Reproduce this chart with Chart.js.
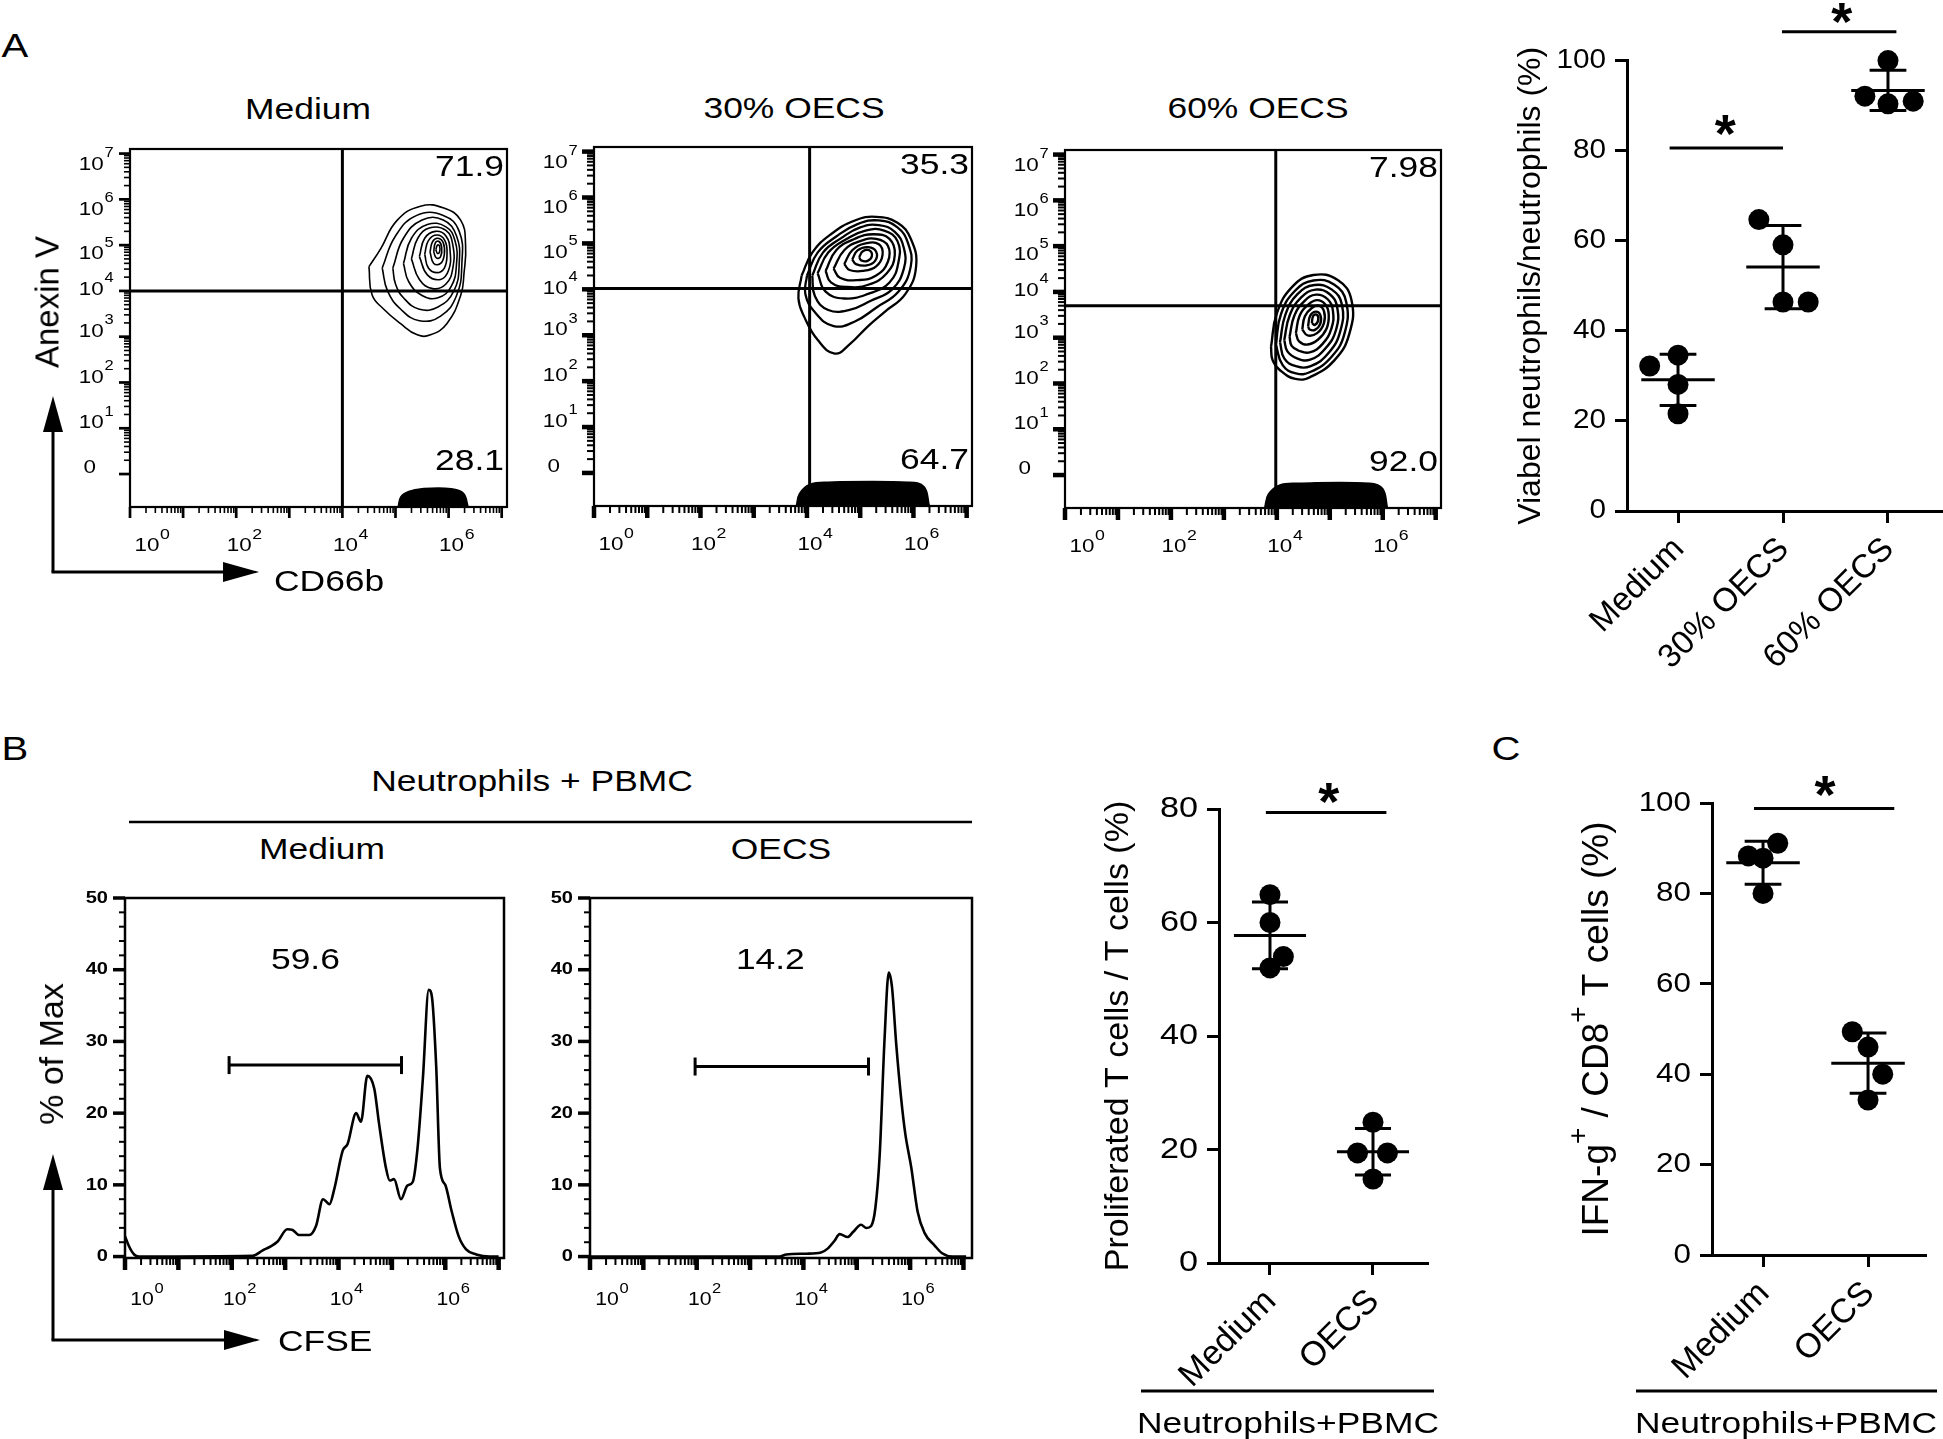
<!DOCTYPE html>
<html>
<head>
<meta charset="utf-8">
<title>Neutrophil viability and T cell proliferation</title>
<script src="https://cdn.jsdelivr.net/npm/chart.js@4.4.1/dist/chart.umd.min.js"></script>
<style>
  html, body { margin:0; padding:0; background:#fff; }
  #fig { position:relative; width:1943px; height:1439px; overflow:hidden; background:#fff;
         font-family:'Liberation Sans', Arial, Helvetica, sans-serif; color:#000; }
  #charts { position:absolute; left:0; top:0; width:1943px; height:1439px; }
  #charts canvas { position:absolute; }
  #fig svg { position:absolute; left:0; top:0; }
  .tx { position:absolute; white-space:nowrap; line-height:1; transform:translate(-50%,-50%) scaleX(1.18); }
  .tl { position:absolute; white-space:nowrap; line-height:1; transform-origin:0 50%; transform:translate(0,-50%) scaleX(1.18); }
  .rot { position:absolute; white-space:nowrap; line-height:1; transform:translate(-50%,-50%) rotate(-90deg); }
</style>
</head>
<body>
<div id="fig">
  <svg width="1943" height="1439" xmlns="http://www.w3.org/2000/svg">
    <g stroke="#000" stroke-width="3" fill="none">
      <line x1="53" y1="572" x2="53" y2="428"/>
      <line x1="51.5" y1="572" x2="226" y2="572"/>
      <line x1="53" y1="1340" x2="53" y2="1186"/>
      <line x1="51.5" y1="1340" x2="226" y2="1340"/>
      <line x1="129" y1="822" x2="972" y2="822" stroke-width="2.5"/>
      <line x1="1141" y1="1391" x2="1434" y2="1391"/>
      <line x1="1636" y1="1391" x2="1937" y2="1391"/>
    </g>
    <g fill="#000">
      <polygon points="53,396 43,432 63,432"/>
      <polygon points="259,572 223,562 223,582"/>
      <polygon points="53,1154 43,1190 63,1190"/>
      <polygon points="260,1340 224,1330 224,1350"/>
    </g>
  </svg>
  <div id="charts"></div>

  <div class="tx" style="left:15px;top:45px;font-size:34px">A</div>
  <div class="tx" style="left:308px;top:109px;font-size:30px">Medium</div>
  <div class="tx" style="left:794px;top:108px;font-size:30px">30% OECS</div>
  <div class="tx" style="left:1258px;top:108px;font-size:30px">60% OECS</div>
  <div class="rot" style="left:47px;top:302px;font-size:33px">Anexin V</div>
  <div class="tl" style="left:274px;top:581px;font-size:30px">CD66b</div>

  <div class="tx" style="left:15px;top:748px;font-size:34px">B</div>
  <div class="tx" style="left:532px;top:781px;font-size:30px">Neutrophils + PBMC</div>
  <div class="tx" style="left:322px;top:849px;font-size:30px">Medium</div>
  <div class="tx" style="left:781px;top:849px;font-size:30px">OECS</div>
  <div class="rot" style="left:51px;top:1054px;font-size:34px">% of Max</div>
  <div class="tl" style="left:278px;top:1341px;font-size:30px">CFSE</div>
  <div class="tx" style="left:1288px;top:1423px;font-size:30px">Neutrophils+PBMC</div>

  <div class="tx" style="left:1506px;top:748px;font-size:34px">C</div>
  <div class="tx" style="left:1786px;top:1423px;font-size:30px">Neutrophils+PBMC</div>
</div>

<script>
// ======================= DATA =======================
// Panel A: flow cytometry contour plots. Axis units are decades (0 = "0", 1 = 10^1 ... 7 = 10^7)
const flowTitles = ['Medium', '30% OECS', '60% OECS'];
const flowUpperPct = ['71.9', '35.3', '7.98'];
const flowLowerPct = ['28.1', '64.7', '92.0'];
const flowGateCD66b = [4.0, 4.05, 3.98];
const flowGateAnnexin = [4.0, 4.02, 3.70];
const flowYTicks = [0, 1, 2, 3, 4, 5, 6, 7];
const flowYTickExp = [null, '1', '2', '3', '4', '5', '6', '7'];
const flowXTicks = [0, 2, 4, 6];
const flowXTickExp = ['0', '2', '4', '6'];

const contourMedium = [
  [[4.50,4.53],[4.72,4.92],[5.03,5.54],[5.47,5.85],[5.91,5.81],[6.23,5.54],[6.32,5.0],[6.29,4.38],[6.23,3.91],[5.97,3.29],[5.66,3.04],[5.41,3.04],[5.09,3.29],[4.78,3.6],[4.56,3.91]],
  [[4.75,4.5],[5.0,5.2],[5.4,5.65],[5.9,5.65],[6.2,5.3],[6.25,4.6],[6.15,3.9],[5.85,3.45],[5.45,3.35],[5.1,3.6],[4.85,4.0]],
  [[4.95,4.5],[5.15,5.15],[5.5,5.55],[5.9,5.55],[6.15,5.2],[6.2,4.6],[6.1,4.0],[5.8,3.65],[5.45,3.6],[5.15,3.85],[5.0,4.15]],
  [[5.15,4.6],[5.3,5.15],[5.6,5.45],[5.95,5.4],[6.12,5.1],[6.15,4.6],[6.05,4.1],[5.8,3.85],[5.5,3.9],[5.25,4.2]],
  [[5.3,4.7],[5.42,5.15],[5.65,5.38],[5.95,5.32],[6.08,5.0],[6.08,4.5],[5.95,4.15],[5.7,4.05],[5.45,4.25]],
  [[5.45,4.75],[5.55,5.15],[5.75,5.3],[5.95,5.2],[6.03,4.85],[6.0,4.45],[5.85,4.25],[5.6,4.35]],
  [[5.55,4.8],[5.62,5.1],[5.78,5.22],[5.93,5.1],[5.97,4.8],[5.92,4.5],[5.78,4.4],[5.62,4.5]],
  [[5.65,4.85],[5.7,5.08],[5.8,5.15],[5.9,5.05],[5.92,4.8],[5.85,4.6],[5.72,4.6]],
  [[5.72,4.85],[5.75,5.05],[5.82,5.08],[5.87,4.95],[5.85,4.75],[5.77,4.72]],
  [[5.76,4.9],[5.79,5.0],[5.83,4.98],[5.83,4.85],[5.79,4.82]]
];
const blobMedium = [[5.05,-0.72],[5.1,-0.5],[5.25,-0.38],[5.5,-0.32],[6.05,-0.32],[6.28,-0.42],[6.37,-0.72]];

const contour30 = [
  [[3.9,4.3],[4.1,4.8],[4.45,5.2],[4.9,5.5],[5.3,5.58],[5.7,5.45],[5.95,5.1],[6.05,4.5],[5.85,3.9],[5.45,3.5],[5.15,3.2],[4.8,2.8],[4.52,2.6],[4.2,2.9],[3.95,3.4],[3.84,3.8]],
  [[4.0,4.3],[4.2,4.8],[4.55,5.15],[4.95,5.42],[5.35,5.5],[5.7,5.35],[5.9,5.0],[5.95,4.5],[5.72,3.95],[5.3,3.6],[4.9,3.3],[4.5,3.2],[4.15,3.5],[3.97,3.9]],
  [[4.1,4.3],[4.3,4.8],[4.65,5.12],[5.0,5.35],[5.35,5.4],[5.65,5.25],[5.82,4.9],[5.82,4.45],[5.6,4.0],[5.2,3.75],[4.8,3.55],[4.4,3.55],[4.15,3.85]],
  [[4.2,4.35],[4.4,4.8],[4.75,5.1],[5.1,5.28],[5.45,5.28],[5.7,5.05],[5.72,4.6],[5.55,4.15],[5.15,3.9],[4.7,3.8],[4.35,3.95]],
  [[4.35,4.4],[4.55,4.85],[4.9,5.1],[5.25,5.2],[5.55,5.1],[5.65,4.75],[5.5,4.35],[5.15,4.1],[4.75,4.05],[4.45,4.15]],
  [[4.5,4.45],[4.7,4.85],[5.0,5.05],[5.3,5.1],[5.52,4.95],[5.52,4.6],[5.3,4.3],[4.95,4.2],[4.62,4.25]],
  [[4.7,4.55],[4.85,4.85],[5.1,5.0],[5.35,4.98],[5.42,4.75],[5.3,4.5],[5.05,4.4],[4.8,4.42]],
  [[4.85,4.65],[4.95,4.85],[5.15,4.92],[5.3,4.82],[5.28,4.62],[5.12,4.52],[4.92,4.55]],
  [[4.98,4.7],[5.05,4.83],[5.17,4.85],[5.22,4.73],[5.14,4.62],[5.02,4.63]]
];
const blob30 = [[3.8,-0.72],[3.86,-0.45],[4.05,-0.25],[4.4,-0.2],[5.9,-0.2],[6.2,-0.3],[6.3,-0.72]];

const contour60 = [
  [[3.89,2.8],[4.0,3.53],[4.29,4.11],[4.69,4.37],[5.15,4.26],[5.41,3.82],[5.37,3.09],[5.09,2.51],[4.63,2.14],[4.35,2.1],[4.06,2.29],[3.92,2.51]],
  [[3.98,2.85],[4.08,3.52],[4.34,4.02],[4.69,4.25],[5.08,4.16],[5.31,3.78],[5.28,3.1],[5.03,2.58],[4.63,2.25],[4.36,2.22],[4.11,2.4]],
  [[4.06,2.9],[4.16,3.5],[4.39,3.95],[4.71,4.15],[5.04,4.05],[5.23,3.72],[5.2,3.15],[4.98,2.67],[4.64,2.38],[4.36,2.38],[4.14,2.55]],
  [[4.14,2.95],[4.24,3.48],[4.46,3.88],[4.73,4.05],[5.0,3.95],[5.14,3.66],[5.12,3.18],[4.92,2.77],[4.63,2.52],[4.38,2.55],[4.2,2.7]],
  [[4.24,3.02],[4.33,3.48],[4.52,3.8],[4.74,3.94],[4.96,3.84],[5.06,3.58],[5.03,3.2],[4.86,2.86],[4.62,2.68],[4.41,2.72],[4.28,2.82]],
  [[4.36,3.1],[4.43,3.48],[4.59,3.72],[4.76,3.82],[4.92,3.72],[4.98,3.5],[4.94,3.2],[4.78,2.96],[4.58,2.85],[4.42,2.92]],
  [[4.48,3.18],[4.53,3.47],[4.66,3.65],[4.79,3.7],[4.89,3.58],[4.89,3.32],[4.76,3.1],[4.58,3.05]],
  [[4.59,3.25],[4.63,3.48],[4.73,3.57],[4.82,3.5],[4.82,3.3],[4.72,3.17],[4.62,3.18]],
  [[4.66,3.32],[4.69,3.48],[4.76,3.5],[4.78,3.38],[4.72,3.28]]
];
const blob60 = [[3.77,-0.72],[3.84,-0.42],[4.05,-0.22],[4.4,-0.18],[5.75,-0.18],[6.0,-0.3],[6.09,-0.72]];

// Panel B: CFSE histograms (x in decades, y = % of Max)
const histYTicks = [0, 10, 20, 30, 40, 50];
const cfseMedium = [
  [0,2.85],[0.075,1.43],[0.17,0.29],[0.26,0],[2.39,0.1],[2.58,0.86],[2.73,1.43],[2.86,2.1],[3.04,3.8],[3.14,3.7],
  [3.26,3.0],[3.45,3.0],[3.58,4.3],[3.71,8.0],[3.83,7.3],[3.92,9.4],[4.08,14.8],[4.17,15.7],[4.33,20.0],[4.42,18.8],
  [4.54,25.2],[4.67,23.4],[4.76,18.5],[4.89,12.3],[4.96,10.6],[5.04,10.8],[5.17,8.0],[5.29,9.9],[5.39,10.4],[5.48,15.1],
  [5.58,24.8],[5.69,37.2],[5.75,36.2],[5.83,26.5],[5.9,12.3],[6.0,10.0],[6.11,6.6],[6.25,2.85],[6.39,1.0],[6.58,0.3],
  [6.83,0],[7.0,0]
];
const cfseOECS = [
  [0,0],[3.55,0],[3.68,0.28],[4.05,0.4],[4.33,0.57],[4.46,1.14],[4.58,2.17],[4.68,3.13],[4.83,2.73],[4.93,3.42],
  [5.08,4.44],[5.18,3.99],[5.27,4.27],[5.35,6.84],[5.43,14.2],[5.52,30.2],[5.6,39.6],[5.66,37.6],[5.74,29.6],[5.83,22.2],
  [5.91,17.1],[6.02,12.5],[6.14,6.3],[6.27,3.3],[6.46,1.54],[6.6,0.46],[6.8,0],[7.05,0]
];
const cfseGateMedium = [1.95, 5.18, 26.7];   // from, to, height
const cfseGateOECS = [1.97, 5.22, 26.5];
const cfsePct = ['59.6', '14.2'];

// Panel A right: viable neutrophils / neutrophils (%)
const viabCategories = ['Medium', '30% OECS', '60% OECS'];
const viabValues = [[32.2, 34.6, 28.1, 21.6], [64.7, 59.1, 46.4, 46.4], [92.1, 100.0, 90.4, 91.0]];
const viabJitter = [[-0.27, 0, 0, 0], [-0.23, 0, 0, 0.24], [-0.22, 0, 0, 0.24]];
const viabSig = [{from: -0.08, to: 1.0, y: 80.6, sx: 0.45, sy: 86.6}, {from: 0.99, to: 2.08, y: 106.4, sx: 1.56, sy: 111.5}];

// Panel B right: proliferated T cells / T cells (%)
const prolifCategories = ['Medium', 'OECS'];
const prolifValues = [[64.9, 60.0, 54.0, 52.0], [24.8, 19.4, 19.4, 14.8]];
const prolifJitter = [[0, 0, 0.13, 0], [0, -0.15, 0.14, 0]];
const prolifSig = [{from: -0.04, to: 1.13, y: 79.4, sx: 0.57, sy: 83.5}];

// Panel C: IFN-g+ / CD8+ T cells (%)
const ifnCategories = ['Medium', 'OECS'];
const ifnValues = [[88.3, 87.8, 91.1, 80.0], [49.4, 46.0, 40.0, 34.3]];
const ifnJitter = [[-0.14, 0, 0.14, 0], [-0.15, 0, 0.14, 0]];
const ifnSig = [{from: -0.086, to: 1.25, y: 98.8, sx: 0.59, sy: 104.7}];

// ======================= RENDERING =======================
const FONT = "'Liberation Sans', Arial, Helvetica, sans-serif";
const SX = 1.18;   // horizontal stretch of the original lettering
Chart.defaults.font.family = FONT;
Chart.defaults.color = '#000';

function mkCanvas(box) {
  const c = document.createElement('canvas');
  c.width = box.w; c.height = box.h;
  c.style.left = box.x + 'px'; c.style.top = box.y + 'px';
  c.style.width = box.w + 'px'; c.style.height = box.h + 'px';
  document.getElementById('charts').appendChild(c);
  return c;
}
function padFor(area, box, yW, xH) {
  return { left: area.l - box.x - yW, top: area.t - box.y,
           right: box.x + box.w - area.r, bottom: box.y + box.h - area.b - xH };
}
function pts(arr) { return arr.map(p => ({x: p[0], y: p[1]})); }
function seg(ctx, x1, y1, x2, y2) { ctx.beginPath(); ctx.moveTo(x1, y1); ctx.lineTo(x2, y2); ctx.stroke(); }
function decadeMinors(maxV) {
  const out = [];
  for (let d = 0; d < 8; d++) for (let k = 2; k <= 9; k++) { const v = d + Math.log10(k); if (v <= maxV) out.push(v); }
  return out;
}
function sText(ctx, text, x, y, size, align, sx, weight) {
  ctx.save();
  ctx.translate(x, y); ctx.scale(sx, 1);
  ctx.font = (weight ? weight + ' ' : '') + size + 'px ' + FONT;
  ctx.textAlign = align; ctx.textBaseline = 'middle'; ctx.fillStyle = '#000';
  ctx.fillText(text, 0, 0);
  ctx.restore();
}
function drawPow(ctx, x, y, exp, baseSize, expSize, align, sx) {
  ctx.save();
  ctx.translate(x, y); ctx.scale(sx, 1);
  ctx.textBaseline = 'middle'; ctx.textAlign = 'left'; ctx.fillStyle = '#000';
  ctx.font = baseSize + 'px ' + FONT;
  const wb = ctx.measureText('10').width;
  ctx.font = expSize + 'px ' + FONT;
  const we = ctx.measureText(exp).width;
  const x0 = align === 'right' ? -wb - we : -wb / 2;
  ctx.font = baseSize + 'px ' + FONT; ctx.fillText('10', x0, 0);
  ctx.font = expSize + 'px ' + FONT; ctx.fillText(exp, x0 + wb + 0.5, -baseSize * 0.6);
  ctx.restore();
}
function drawDecadeXAxis(ctx, a, xs, st) {
  ctx.lineWidth = st.majW;
  for (let d = 0; d <= 7; d++) { if (d > xs.max) break; const p = xs.getPixelForValue(d); seg(ctx, p, a.bottom, p, a.bottom + st.majLen); }
  ctx.lineWidth = st.minW;
  decadeMinors(xs.max).forEach(v => { const p = xs.getPixelForValue(v); seg(ctx, p, a.bottom, p, a.bottom + st.minLen); });
  flowXTicks.forEach((v, i) => {
    const p = xs.getPixelForValue(v) + (i === 0 ? 17 : 3);
    drawPow(ctx, p, a.bottom + st.labDy, flowXTickExp[i], st.labSize, st.labSize - 4, 'center', SX);
  });
}

// ---------- flow contour plots ----------
const flowYNudge = [-6, -5, -5, -5, -1, 9, 10, 11];
function flowChart(area, rings, blob, idx, lineW, tickStyle) {
  const box = {x: area.l - 80, y: area.t - 12, w: area.r - area.l + 92, h: area.b - area.t + 12 + 70};
  const xMax = 7.1, yMin = -0.72, yMax = 7.1;
  const datasets = [];
  const base = {borderColor: '#000', pointRadius: 0, fill: false};
  datasets.push(Object.assign({}, base, {data: [{x: flowGateCD66b[idx], y: yMin}, {x: flowGateCD66b[idx], y: yMax}], borderWidth: 3, tension: 0}));
  datasets.push(Object.assign({}, base, {data: [{x: 0, y: flowGateAnnexin[idx]}, {x: xMax, y: flowGateAnnexin[idx]}], borderWidth: 3, tension: 0}));
  rings.forEach(r => datasets.push(Object.assign({}, base, {data: pts(r.concat([r[0]])), borderWidth: lineW, tension: 0.45})));
  datasets.push(Object.assign({}, base, {data: pts(blob), fill: 'start', backgroundColor: '#000', borderWidth: 1.5, tension: 0.4}));
  const plugin = {
    id: 'flowDecor',
    afterDraw(chart) {
      const ctx = chart.ctx, a = chart.chartArea, xs = chart.scales.x, ys = chart.scales.y;
      ctx.save();
      ctx.strokeStyle = '#000'; ctx.fillStyle = '#000'; ctx.lineCap = 'butt';
      ctx.lineWidth = 2.2;
      ctx.strokeRect(a.left, a.top, a.right - a.left, a.bottom - a.top);
      drawDecadeXAxis(ctx, a, xs, tickStyle);
      ctx.lineWidth = tickStyle.majW;
      flowYTicks.forEach(v => { const p = ys.getPixelForValue(v); seg(ctx, a.left, p, a.left - tickStyle.majLen, p); });
      ctx.lineWidth = tickStyle.minW;
      decadeMinors(7).forEach(v => { const p = ys.getPixelForValue(v); seg(ctx, a.left, p, a.left - tickStyle.minLen, p); });
      flowYTicks.forEach((v, i) => {
        const p = ys.getPixelForValue(v) + flowYNudge[i];
        if (flowYTickExp[i] === null) {
          sText(ctx, '0', a.left - 34, p, tickStyle.labSize, 'right', SX);
        } else {
          drawPow(ctx, a.left - 17, p, flowYTickExp[i], tickStyle.labSize, tickStyle.labSize - 5, 'right', SX);
        }
      });
      sText(ctx, flowUpperPct[idx], a.right - 3, a.top + 19, 30, 'right', SX);
      sText(ctx, flowLowerPct[idx], a.right - 3, a.bottom - 45, 30, 'right', SX);
      ctx.restore();
    }
  };
  new Chart(mkCanvas(box), {
    type: 'line',
    data: {datasets},
    options: {
      responsive: false, animation: false, devicePixelRatio: 1, events: [],
      layout: {autoPadding: false, padding: padFor(area, box, 0, 0)},
      plugins: {legend: {display: false}, tooltip: {enabled: false}},
      scales: {
        x: {type: 'linear', display: false, min: 0, max: xMax},
        y: {type: 'linear', display: false, min: yMin, max: yMax}
      }
    },
    plugins: [plugin]
  });
}

flowChart({l: 130, r: 507, t: 149, b: 507}, contourMedium, blobMedium, 0, 1.6, {majW: 2.7, majLen: 11, minW: 1.6, minLen: 6, labDy: 39, labSize: 19});
flowChart({l: 594, r: 972, t: 147, b: 506}, contour30, blob30, 1, 2.3, {majW: 4.5, majLen: 12, minW: 2, minLen: 7, labDy: 39, labSize: 19});
flowChart({l: 1065, r: 1441, t: 150, b: 508}, contour60, blob60, 2, 2.4, {majW: 4.5, majLen: 12, minW: 2, minLen: 7, labDy: 39, labSize: 19});

// ---------- CFSE histograms ----------
function histChart(area, xMax, series, gate, pct) {
  const box = {x: area.l - 80, y: area.t - 12, w: area.r - area.l + 92, h: area.b - area.t + 12 + 70};
  const yMin = -0.2, yMax = 50;
  const datasets = [
    {data: [{x: gate[0], y: gate[2]}, {x: gate[1], y: gate[2]}], borderColor: '#000', borderWidth: 3, showLine: true,
     pointStyle: 'line', pointRadius: 9, pointRotation: 90, pointBorderWidth: 3, pointBorderColor: '#000', fill: false},
    {data: pts(series), borderColor: '#000', borderWidth: 2.6, pointRadius: 0, fill: false, cubicInterpolationMode: 'monotone'}
  ];
  const st = {majW: 4.5, majLen: 12, minW: 2, minLen: 7, labDy: 42, labSize: 18};
  const plugin = {
    id: 'histDecor',
    afterDraw(chart) {
      const ctx = chart.ctx, a = chart.chartArea, xs = chart.scales.x, ys = chart.scales.y;
      ctx.save();
      ctx.strokeStyle = '#000'; ctx.fillStyle = '#000';
      ctx.lineWidth = 2.5;
      ctx.strokeRect(a.left, a.top, a.right - a.left, a.bottom - a.top);
      drawDecadeXAxis(ctx, a, xs, st);
      for (let v = 0; v <= 50; v += 2) {
        const p = ys.getPixelForValue(v);
        const major = histYTicks.indexOf(v) >= 0;
        ctx.lineWidth = major ? 3.5 : 2;
        seg(ctx, a.left, p, a.left - (major ? 12 : 6), p);
      }
      histYTicks.forEach(v => sText(ctx, String(v), a.left - 17, ys.getPixelForValue(v), 17, 'right', SX, 'bold'));
      sText(ctx, pct, xs.getPixelForValue(3.38), ys.getPixelForValue(41.3), 30, 'center', SX);
      ctx.restore();
    }
  };
  new Chart(mkCanvas(box), {
    type: 'line',
    data: {datasets},
    options: {
      responsive: false, animation: false, devicePixelRatio: 1, events: [],
      layout: {autoPadding: false, padding: padFor(area, box, 0, 0)},
      plugins: {legend: {display: false}, tooltip: {enabled: false}},
      scales: {
        x: {type: 'linear', display: false, min: 0, max: xMax},
        y: {type: 'linear', display: false, min: yMin, max: yMax}
      }
    },
    plugins: [plugin]
  });
}
histChart({l: 125, r: 504, t: 898, b: 1258}, 7.1, cfseMedium, cfseGateMedium, cfsePct[0]);
histChart({l: 590, r: 972, t: 898, b: 1258}, 7.16, cfseOECS, cfseGateOECS, cfsePct[1]);

// ---------- dot plots (mean ± SD) ----------
function mean(a) { return a.reduce((s, v) => s + v, 0) / a.length; }
function sd(a) { const m = mean(a); return Math.sqrt(a.reduce((s, v) => s + (v - m) * (v - m), 0) / (a.length - 1)); }
function drawRich(ctx, parts, cx, cy, size) {
  ctx.save(); ctx.translate(cx, cy); ctx.rotate(-Math.PI / 2);
  const sup = Math.round(size * 0.75);
  const ws = parts.map(p => { ctx.font = (p.sup ? sup : size) + 'px ' + FONT; return ctx.measureText(p.t).width; });
  let x = -ws.reduce((s, w) => s + w, 0) / 2;
  ctx.textAlign = 'left'; ctx.textBaseline = 'middle'; ctx.fillStyle = '#000';
  parts.forEach((p, i) => { ctx.font = (p.sup ? sup : size) + 'px ' + FONT; ctx.fillText(p.t, x, p.sup ? -size * 0.5 : 0); x += ws[i]; });
  ctx.restore();
}
function dotChart(box, area, cats, values, jitter, xr, yr, ystep, sig, titleParts, titleX, fs) {
  const YW = 80, XH = 100;
  const data = [];
  values.forEach((arr, i) => arr.forEach((v, j) => data.push({x: i + jitter[i][j], y: v})));
  const axisStyle = {
    grid: {display: true, drawOnChartArea: false, drawTicks: true, tickLength: 12, tickWidth: 3, tickColor: '#000', color: '#000'},
    border: {display: true, width: 3, color: '#000'}
  };
  const plugin = {
    id: 'dotDecor',
    afterDraw(chart) {
      const ctx = chart.ctx, xs = chart.scales.x, ys = chart.scales.y, a = chart.chartArea;
      const X = v => xs.getPixelForValue(v), Y = v => ys.getPixelForValue(v);
      ctx.save();
      ctx.strokeStyle = '#000'; ctx.fillStyle = '#000'; ctx.lineWidth = 3; ctx.lineCap = 'butt';
      values.forEach((arr, i) => {
        const m = mean(arr), s = sd(arr);
        seg(ctx, X(i - 0.35), Y(m), X(i + 0.35), Y(m));
        seg(ctx, X(i), Y(m - s), X(i), Y(m + s));
        seg(ctx, X(i - 0.175), Y(m + s), X(i + 0.175), Y(m + s));
        seg(ctx, X(i - 0.175), Y(m - s), X(i + 0.175), Y(m - s));
      });
      sig.forEach(b => {
        seg(ctx, X(b.from), Y(b.y), X(b.to), Y(b.y));
        ctx.font = 'bold 54px ' + FONT; ctx.textAlign = 'center'; ctx.textBaseline = 'alphabetic';
        ctx.fillText('*', X(b.sx), Y(b.sy) + 54 * 0.57);
      });
      // value labels on the y axis
      ys.ticks.forEach(t => sText(ctx, String(t.value), a.left - 21, Y(t.value), fs.tick, 'right', fs.sx));
      // rotated category labels
      cats.forEach((c, i) => {
        ctx.save();
        ctx.translate(X(i) + 1, a.bottom + 33);
        ctx.rotate(-Math.PI / 4);
        ctx.font = fs.cat + 'px ' + FONT; ctx.textAlign = 'right'; ctx.textBaseline = 'middle';
        ctx.fillText(c, 0, 0);
        ctx.restore();
      });
      drawRich(ctx, titleParts, titleX - box.x, (a.top + a.bottom) / 2, fs.title);
      ctx.restore();
    }
  };
  new Chart(mkCanvas(box), {
    type: 'scatter',
    data: {datasets: [{data, pointRadius: 10.5, pointHoverRadius: 10.5, backgroundColor: '#000', borderColor: '#000', borderWidth: 0, clip: false}]},
    options: {
      responsive: false, animation: false, devicePixelRatio: 1, events: [],
      layout: {autoPadding: false, padding: padFor(area, box, YW, XH)},
      plugins: {legend: {display: false}, tooltip: {enabled: false}},
      scales: {
        x: Object.assign({
          type: 'linear', min: xr[0], max: xr[1],
          afterFit(s) { s.height = XH; },
          afterBuildTicks(s) { s.ticks = cats.map((c, i) => ({value: i})); },
          ticks: {display: false}
        }, axisStyle),
        y: Object.assign({
          type: 'linear', min: yr[0], max: yr[1],
          afterFit(s) { s.width = YW; },
          ticks: {display: false, stepSize: ystep}
        }, axisStyle)
      }
    },
    plugins: [plugin]
  });
}

dotChart({x: 1480, y: 0, w: 463, h: 700}, {l: 1627, r: 1943, t: 60.6, b: 511},
  viabCategories, viabValues, viabJitter, [-0.486, 2.524], [0, 100], 20, viabSig,
  [{t: 'Viabel neutrophils/neutrophils (%)'}], 1531, {tick: 27, sx: 1.1, cat: 33, title: 32});
dotChart({x: 1080, y: 740, w: 380, h: 699}, {l: 1219, r: 1428, t: 809, b: 1263},
  prolifCategories, prolifValues, prolifJitter, [-0.495, 1.534], [0, 80], 20, prolifSig,
  [{t: 'Proliferated T cells / T cells (%)'}], 1119, {tick: 29, sx: 1.18, cat: 34, title: 34});
dotChart({x: 1560, y: 740, w: 383, h: 699}, {l: 1712, r: 1926, t: 803, b: 1255},
  ifnCategories, ifnValues, ifnJitter, [-0.486, 1.552], [0, 100], 20, ifnSig,
  [{t: 'IFN-g'}, {t: '+', sup: true}, {t: ' / CD8'}, {t: '+', sup: true}, {t: ' T cells (%)'}], 1598, {tick: 28, sx: 1.12, cat: 34, title: 37});
</script>
</body>
</html>
